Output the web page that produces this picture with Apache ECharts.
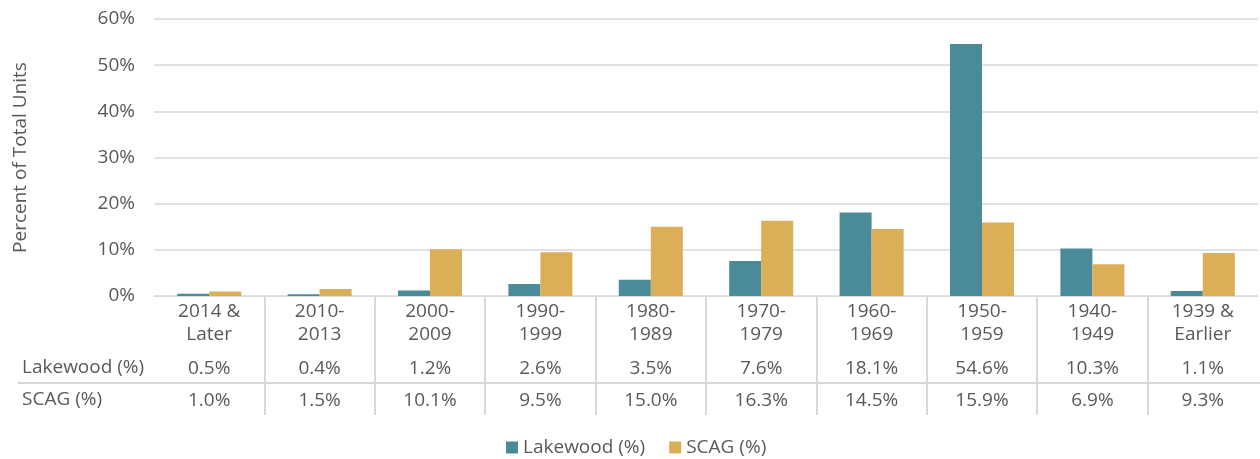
<!DOCTYPE html>
<html><head><meta charset="utf-8">
<script src="https://cdn.jsdelivr.net/npm/echarts@6/dist/echarts.min.js"></script>
<style>html,body{margin:0;padding:0;background:#fff}#c{width:1260px;height:459px}</style>
</head><body><div id="c"></div>
<script>
const categories = ['2014 &\nLater','2010-\n2013','2000-\n2009','1990-\n1999','1980-\n1989','1970-\n1979','1960-\n1969','1950-\n1959','1940-\n1949','1939 &\nEarlier'];
const lakewood = [0.5,0.4,1.2,2.6,3.5,7.6,18.1,54.6,10.3,1.1];
const scag = [1.0,1.5,10.1,9.5,15.0,16.3,14.5,15.9,6.9,9.3];
const yTicks = [0,10,20,30,40,50,60];
const seriesNames = ['Lakewood (%)','SCAG (%)'];

const FONT = 'Open Sans';
const FS = 19;
const TXT = '#595959';
const LINE = '#d9d9d9';
const C1 = '#4a8a99', C2 = '#dbae58';
const fmt = v => v.toFixed(1) + '%';

const chart = echarts.init(document.getElementById('c'), null, {renderer:'canvas'});
const option = {
  animation:false,
  textStyle:{fontFamily:FONT,color:TXT},
  grid:[
    {left:154,right:2,top:19,bottom:163},
    {left:154,right:2,top:296,bottom:44}
  ],
  legend:{
    data:seriesNames, top:433, left:501, itemWidth:12, itemHeight:12, itemGap:24,
    icon:'rect', textStyle:{fontFamily:FONT,fontSize:FS,color:TXT}
  },
  xAxis:[
    {type:'category',gridIndex:0,data:categories,
     axisLine:{lineStyle:{color:LINE,width:1}},axisTick:{show:false},
     axisLabel:{interval:0,margin:4,fontFamily:FONT,fontSize:FS,color:TXT,lineHeight:23,align:'center'}},
    {type:'category',gridIndex:0,data:lakewood.map(fmt),position:'bottom',offset:62,
     axisLine:{show:false},axisTick:{show:false},
     axisLabel:{interval:0,margin:0,fontFamily:FONT,fontSize:FS,color:TXT,lineHeight:22}},
    {type:'category',gridIndex:0,data:scag.map(fmt),position:'bottom',offset:94,
     axisLine:{show:false},axisTick:{show:false},
     axisLabel:{interval:0,margin:0,fontFamily:FONT,fontSize:FS,color:TXT,lineHeight:22}},
    {type:'category',gridIndex:1,data:categories,
     axisLine:{show:false},axisTick:{show:false},axisLabel:{show:false},
     splitLine:{show:true,showMinLine:false,showMaxLine:false,interval:0,lineStyle:{color:LINE,width:2}}}
  ],
  yAxis:[
    {type:'value',gridIndex:0,min:yTicks[0],max:yTicks[yTicks.length-1],interval:10,
     name:'Percent of Total Units',nameLocation:'middle',nameGap:124,nameRotate:90,
     nameTextStyle:{fontFamily:FONT,fontSize:FS,color:TXT},
     axisLine:{show:false},axisTick:{show:false},
     axisLabel:{margin:19,formatter:v=>v+'%',fontFamily:FONT,fontSize:FS,color:TXT},
     splitLine:{lineStyle:{color:LINE,width:1.5}}},
    {type:'value',gridIndex:1,show:false,splitLine:{show:false}}
  ],
  graphic:[
    {type:'line',shape:{x1:18,y1:383,x2:1260,y2:383},style:{stroke:LINE,lineWidth:2},silent:true},
    {type:'text',x:22,y:368,style:{text:'Lakewood (%)',font:FS+'px "'+FONT+'"',fill:TXT,verticalAlign:'middle'}},
    {type:'text',x:22,y:400,style:{text:'SCAG (%)',font:FS+'px "'+FONT+'"',fill:TXT,verticalAlign:'middle'}}
  ],
  series:[
    {name:seriesNames[0],type:'bar',xAxisIndex:0,yAxisIndex:0,data:lakewood,itemStyle:{color:C1},barGap:'0%',barCategoryGap:'42%'},
    {name:seriesNames[1],type:'bar',xAxisIndex:0,yAxisIndex:0,data:scag,itemStyle:{color:C2},barGap:'0%',barCategoryGap:'42%'}
  ]
};
chart.setOption(option);
</script></body></html>
